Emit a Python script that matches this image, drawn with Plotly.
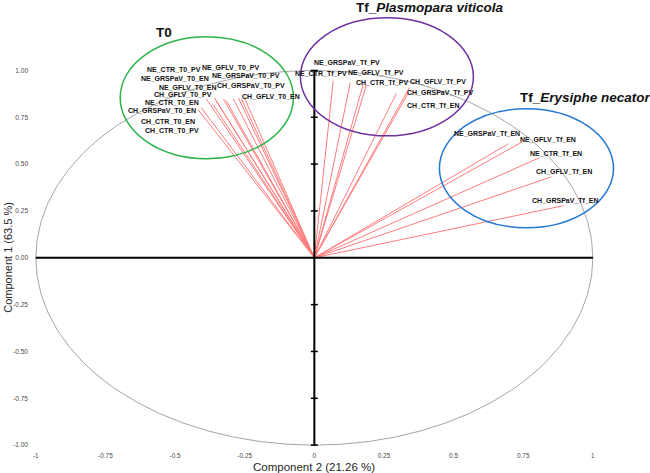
import plotly.graph_objects as go

# ---- data: loadings (Component 2 on x, Component 1 on y) ----
labels_t0 = ["NE_CTR_T0_PV", "NE_GFLV_T0_PV", "NE_GRSPaV_T0_EN", "NE_GRSPaV_T0_PV",
             "NE_GFLV_T0_EN", "CH_GRSPaV_T0_PV", "CH_GFLV_T0_PV", "CH_GFLV_T0_EN",
             "NE_CTR_T0_EN", "CH_GRSPaV_T0_EN", "CH_CTR_T0_EN", "CH_CTR_T0_PV"]
x_t0 = [-0.388, -0.327, -0.359, -0.291, -0.352, -0.273, -0.363, -0.262, -0.406, -0.417, -0.316, -0.251]
y_t0 = [0.849, 0.849, 0.854, 0.849, 0.838, 0.854, 0.817, 0.849, 0.801, 0.790, 0.838, 0.854]

labels_pv = ["NE_CTR_Tf_PV", "NE_GRSPaV_Tf_PV", "NE_GFLV_Tf_PV", "CH_CTR_Tf_PV",
             "CH_GFLV_Tf_PV", "CH_GRSPaV_Tf_PV", "CH_CTR_Tf_EN"]
x_pv = [0.068, 0.129, 0.176, 0.187, 0.341, 0.338, 0.294]
y_pv = [0.945, 0.934, 0.929, 0.924, 0.908, 0.881, 0.876]

labels_en = ["NE_GRSPaV_Tf_EN", "NE_GFLV_Tf_EN", "NE_CTR_Tf_EN", "CH_GFLV_Tf_EN", "CH_GRSPaV_Tf_EN"]
x_en = [0.697, 0.747, 0.808, 0.851, 0.894]
y_en = [0.609, 0.619, 0.534, 0.432, 0.278]

x_tick_vals = [-1, -0.75, -0.5, -0.25, 0, 0.25, 0.5, 0.75, 1]
x_tick_text = ["-1", "-0.75", "-0.5", "-0.25", "0", "0.25", "0.5", "0.75", "1"]
y_tick_vals = [1, 0.75, 0.5, 0.25, 0, -0.25, -0.5, -0.75, -1]
y_tick_text = ["1.00", "0.75", "0.50", "0.25", "0.00", "-0.25", "-0.50", "-0.75", "-1.00"]

x_title = "Component 2 (21.26 %)"
y_title = "Component 1 (63.5 %)"

# ---- label offsets in pixels (style) ----
shift_t0 = [(-32, 29), (7, 31), (-39, 19), (13, 23), (-29, 13), (13, 12), (-30, 10),
            (30, 2), (-29, 5), (-36, -1), (-58, -21), (-72, -33)]
shift_pv = [(-12, 7), (-3, 20), (13, 11), (16, 2), (29, 6), (32, 0), (37, -12)]
shift_en = [(-21, 10), (26, 2), (17, 4), (13, 5), (2, 5)]

all_labels = labels_t0 + labels_pv + labels_en
all_x = x_t0 + x_pv + x_en
all_y = y_t0 + y_pv + y_en
all_shift = shift_t0 + shift_pv + shift_en

fig = go.Figure()

# loading vectors
lx, ly = [], []
for xv, yv in zip(all_x, all_y):
    lx += [0, xv, None]
    ly += [0, yv, None]
fig.add_trace(go.Scatter(x=lx, y=ly, mode="lines",
                         line=dict(color="#FF7C7C", width=1), hoverinfo="skip",
                         showlegend=False))

# tick marks on vertical axis line
tick_marks = [v for v in y_tick_vals if v != 0]
fig.add_trace(go.Scatter(x=[0] * len(tick_marks), y=tick_marks, mode="markers",
                         marker=dict(symbol="line-ew", size=5,
                                     line=dict(color="black", width=1.5)),
                         hoverinfo="skip", showlegend=False))

shapes = [
    dict(type="circle", xref="x", yref="y", x0=-1, x1=1, y0=-1, y1=1,
         line=dict(color="#A6A6A6", width=1), layer="below"),
    dict(type="line", xref="x", yref="y", x0=-1, x1=1, y0=0, y1=0,
         line=dict(color="black", width=2)),
    dict(type="line", xref="x", yref="y", x0=0, x1=0, y0=-1, y1=1,
         line=dict(color="black", width=2)),
    dict(type="circle", xref="x", yref="y", x0=-0.697, x1=-0.075, y0=0.529, y1=1.18,
         line=dict(color="#2DB34A", width=1.5)),
    dict(type="circle", xref="x", yref="y", x0=-0.050, x1=0.571, y0=0.651, y1=1.281,
         line=dict(color="#7030A0", width=1.5)),
    dict(type="circle", xref="x", yref="y", x0=0.449, x1=1.074, y0=0.160, y1=0.796,
         line=dict(color="#2478D4", width=1.5)),
]

annotations = []
for lab, xv, yv, (dx, dy) in zip(all_labels, all_x, all_y, all_shift):
    annotations.append(dict(x=xv, y=yv, xref="x", yref="y", text="<b>" + lab + "</b>",
                            showarrow=False, xshift=dx, yshift=dy,
                            xanchor="center", yanchor="middle",
                            font=dict(family="Liberation Sans", size=7, color="#111111")))

title_font = dict(family="Liberation Sans", size=13.5, color="#111111")
annotations += [
    dict(x=0.212, y=0.928, xref="paper", yref="paper", text="<b>T0</b>",
         showarrow=False, xanchor="center", yanchor="middle", font=title_font),
    dict(x=0.643, y=0.984, xref="paper", yref="paper",
         text="<b>Tf_<i>Plasmopara viticola</i></b>", showarrow=False,
         xanchor="center", yanchor="middle", font=title_font),
    dict(x=0.895, y=0.781, xref="paper", yref="paper",
         text="<b>Tf_<i>Erysiphe necator</i></b>", showarrow=False,
         xanchor="center", yanchor="middle", font=title_font),
    dict(x=0, y=-0.0447, xref="x", yref="paper", text=x_title, showarrow=False,
         xanchor="center", yanchor="middle",
         font=dict(family="Liberation Sans", size=11.5, color="#262626")),
    dict(x=-0.0405, y=0, xref="paper", yref="y", text=y_title, showarrow=False,
         textangle=-90, xanchor="center", yanchor="middle",
         font=dict(family="Liberation Sans", size=11, color="#262626")),
]

tick_font = dict(family="Liberation Sans", size=6.5, color="#4A4A4A")
fig.update_layout(
    width=650, height=473,
    margin=dict(l=33, r=0, t=0, b=26),
    paper_bgcolor="white", plot_bgcolor="white",
    shapes=shapes, annotations=annotations,
    showlegend=False,
    xaxis=dict(range=[-1.01, 1.205], tickvals=x_tick_vals, ticktext=x_tick_text,
               showgrid=False, zeroline=False, showline=False, ticks="",
               ticklabelstandoff=3, tickfont=tick_font, fixedrange=True),
    yaxis=dict(range=[-1.01, 1.376], tickvals=y_tick_vals, ticktext=y_tick_text,
               showgrid=False, zeroline=False, showline=False, ticks="",
               ticklabelstandoff=4, tickfont=tick_font, fixedrange=True),
)

fig.write_html("out.html", config={"displayModeBar": False},
               post_script="document.body.style.margin='0';")
